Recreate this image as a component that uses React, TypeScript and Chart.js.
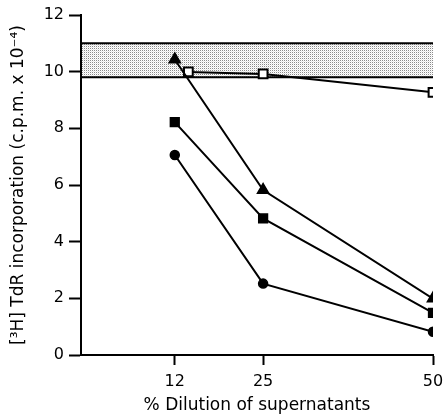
import React, { useEffect, useRef } from "react";
import { Chart, registerables } from "chart.js";

Chart.register(...registerables);

const xTicks = [12, 25, 50];
const yTicks = [0, 2, 4, 6, 8, 10, 12];
const controlBand = [9.8, 11.0];

const openSquareX = [14, 25, 50];
const openSquareY = [9.99, 9.92, 9.27];
const triangleX = [12, 25, 50];
const triangleY = [10.43, 5.82, 1.99];
const filledSquareX = [12, 25, 50];
const filledSquareY = [8.22, 4.82, 1.49];
const circleX = [12, 25, 50];
const circleY = [7.06, 2.52, 0.82];

const FONT = "'DejaVu Sans', sans-serif";

function pts(xs: number[], ys: number[]) {
  return xs.map((x, i) => ({ x, y: ys[i] }));
}

function makePattern(ctx: CanvasRenderingContext2D) {
  const c = document.createElement("canvas");
  c.width = 2;
  c.height = 2;
  const g = c.getContext("2d")!;
  g.fillStyle = "#ffffff";
  g.fillRect(0, 0, 2, 2);
  g.fillStyle = "#8a8a8a";
  g.fillRect(0, 0, 1, 1);
  g.fillStyle = "#e6e6e6";
  g.fillRect(1, 1, 1, 1);
  return ctx.createPattern(c, "repeat")!;
}

const bandPlugin = {
  id: "band",
  beforeDatasetsDraw(chart: any) {
    const { ctx, chartArea, scales } = chart;
    const y = scales.y;
    const top = y.getPixelForValue(controlBand[1]);
    const bot = y.getPixelForValue(controlBand[0]);
    const left = chartArea.left + 1;
    const right = chartArea.right;
    ctx.save();
    ctx.fillStyle = makePattern(ctx);
    ctx.fillRect(left, top, right - left, bot - top);
    ctx.strokeStyle = "#000";
    ctx.lineWidth = 2;
    ctx.beginPath();
    ctx.moveTo(left, top);
    ctx.lineTo(right, top);
    ctx.moveTo(left, bot);
    ctx.lineTo(right, bot);
    ctx.stroke();
    ctx.restore();
  },
};

export default function App() {
  const ref = useRef<HTMLCanvasElement>(null);
  useEffect(() => {
    if (!ref.current) return;
    const common = {
      borderColor: "#000",
      borderWidth: 2,
      pointBorderColor: "#000",
      pointBorderWidth: 1.5,
      showLine: true,
      tension: 0,
    };
    const chart = new Chart(ref.current, {
      type: "scatter",
      data: {
        datasets: [
          {
            ...common,
            data: pts(circleX, circleY),
            pointStyle: "circle",
            pointRadius: 4.5,
            pointBackgroundColor: "#000",
          },
          {
            ...common,
            data: pts(filledSquareX, filledSquareY),
            pointStyle: "rect",
            pointRadius: 6.2,
            pointBackgroundColor: "#000",
          },
          {
            ...common,
            data: pts(triangleX, triangleY),
            pointStyle: "triangle",
            pointRadius: 6.5,
            pointBackgroundColor: "#000",
          },
          {
            ...common,
            data: pts(openSquareX, openSquareY),
            pointStyle: "rect",
            pointRadius: 6.2,
            pointBorderWidth: 2,
            pointBackgroundColor: "#fff",
          },
        ],
      },
      options: {
        animation: false,
        responsive: false,
        layout: { padding: { top: 15, right: 15, left: 0, bottom: 0 } },
        plugins: {
          legend: { display: false },
          tooltip: { enabled: false },
        },
        scales: {
          x: {
            type: "linear",
            min: -1.8,
            max: 50,
            afterBuildTicks: (s: any) => {
              s.ticks = xTicks.map((v) => ({ value: v }));
            },
            afterFit: (s: any) => {
              s.height = 61;
              s.paddingRight = 0;
              s.paddingLeft = 0;
            },
            grid: {
              drawOnChartArea: false,
              drawTicks: true,
              tickLength: 10,
              tickWidth: 2,
              color: "#000",
            },
            border: { display: true, color: "#000", width: 2 },
            ticks: {
              color: "#000",
              font: { family: FONT, size: 16 },
              padding: 7,
              maxRotation: 0,
            },
            title: {
              display: true,
              text: "% Dilution of supernatants",
              color: "#000",
              font: { family: FONT, size: 17 },
              padding: { top: 2, bottom: 0 },
            },
          },
          y: {
            type: "linear",
            min: 0,
            max: 12,
            afterBuildTicks: (s: any) => {
              s.ticks = yTicks.map((v) => ({ value: v }));
            },
            afterFit: (s: any) => {
              s.width = 81;
            },
            grid: {
              drawOnChartArea: false,
              drawTicks: true,
              tickLength: 12,
              tickWidth: 2,
              color: "#000",
            },
            border: { display: true, color: "#000", width: 2 },
            ticks: {
              color: "#000",
              font: { family: FONT, size: 16 },
              padding: 5,
            },
            title: {
              display: true,
              text: "[³H] TdR incorporation (c.p.m. x 10⁻⁴)",
              color: "#000",
              font: { family: FONT, size: 17 },
              padding: { top: 8, bottom: 0 },
            },
          },
        },
      },
      plugins: [bandPlugin],
    } as any);
    return () => chart.destroy();
  }, []);
  return (
    <div style={{ position: "fixed", left: 0, top: 0, width: 448, height: 416, background: "#fff" }}>
      <canvas ref={ref} width={448} height={416} />
    </div>
  );
}
